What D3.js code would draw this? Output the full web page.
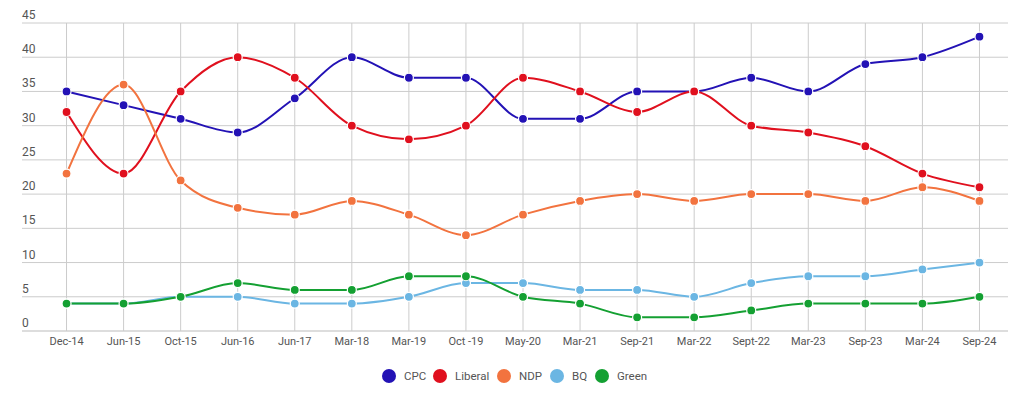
<!DOCTYPE html>
<html>
<head>
<meta charset="utf-8">
<script src="https://cdn.jsdelivr.net/npm/d3@7"></script>
<style>
  body { margin: 0; background: #fff; font-family: Roboto, "Noto Sans", sans-serif; }
  svg text { font-family: Roboto, sans-serif; }
</style>
</head>
<body>
<svg id="chart" width="1024" height="399"></svg>
<script>
// polls by date
const dates = ["Dec-14", "Jun-15", "Oct-15", "Jun-16", "Jun-17", "Mar-18", "Mar-19", "Oct -19", "May-20", "Mar-21", "Sep-21", "Mar-22", "Sept-22", "Mar-23", "Sep-23", "Mar-24", "Sep-24"];
const cpc     = [35, 33, 31, 29, 34, 40, 37, 37, 31, 31, 35, 35, 37, 35, 39, 40, 43];
const liberal = [32, 23, 35, 40, 37, 30, 28, 30, 37, 35, 32, 35, 30, 29, 27, 23, 21];
const ndp     = [23, 36, 22, 18, 17, 19, 17, 14, 17, 19, 20, 19, 20, 20, 19, 21, 19];
const bq      = [4, 4, 5, 5, 4, 4, 5, 7, 7, 6, 6, 5, 7, 8, 8, 9, 10];
const green   = [4, 4, 5, 7, 6, 6, 8, 8, 5, 4, 2, 2, 3, 4, 4, 4, 5];
const yTicks  = [0, 5, 10, 15, 20, 25, 30, 35, 40, 45];

const series = [
  {name: "CPC", color: "#2312b5", values: cpc},
  {name: "Liberal", color: "#e0101e", values: liberal},
  {name: "NDP", color: "#f2733f", values: ndp},
  {name: "BQ", color: "#6bb6e3", values: bq},
  {name: "Green", color: "#14a032", values: green}
];

const svg = d3.select("#chart");
const gridLeft = 22, plotLeft = 38, plotRight = 1008, plotTop = 23, plotBottom = 331;

const x = d3.scalePoint().domain(dates).range([plotLeft, plotRight]).padding(0.5);
const y = d3.scaleLinear().domain([0, 45]).range([plotBottom, plotTop]);

// gridlines
svg.append("g").selectAll("line").data(yTicks).join("line")
    .attr("x1", gridLeft).attr("x2", plotRight)
    .attr("y1", d => y(d)).attr("y2", d => y(d))
    .attr("stroke", d => d === 0 ? "#bbb" : "#ccc").attr("stroke-width", 1);

svg.append("g").selectAll("line").data(dates).join("line")
    .attr("x1", d => x(d)).attr("x2", d => x(d))
    .attr("y1", plotTop).attr("y2", plotBottom)
    .attr("stroke", "#ccc").attr("stroke-width", 1);

// y labels sit above their gridline
svg.append("g").selectAll("text").data(yTicks).join("text")
    .attr("x", gridLeft).attr("y", d => y(d) - 4)
    .attr("font-size", 12).attr("fill", "#555")
    .text(d => d);

// x labels
svg.append("g").selectAll("text").data(dates).join("text")
    .attr("x", d => x(d)).attr("y", 345)
    .attr("text-anchor", "middle")
    .attr("font-size", 11).attr("fill", "#555")
    .text(d => d);

const line = d3.line()
    .x((d, i) => x(dates[i]))
    .y(d => y(d))
    .curve(d3.curveMonotoneX);

series.forEach(s => {
  const g = svg.append("g");
  g.append("path")
      .attr("d", line(s.values))
      .attr("fill", "none")
      .attr("stroke", s.color)
      .attr("stroke-width", 2);
  g.selectAll("circle").data(s.values).join("circle")
      .attr("cx", (d, i) => x(dates[i]))
      .attr("cy", d => y(d))
      .attr("r", 4.5)
      .attr("fill", s.color)
      .attr("stroke", "#fff")
      .attr("stroke-width", 1.2);
});

// legend
const legendX = [389, 440, 504, 557, 602];
const legend = svg.append("g").selectAll("g").data(series).join("g")
    .attr("transform", (d, i) => `translate(${legendX[i]},376)`);
legend.append("circle").attr("r", 7).attr("fill", d => d.color);
legend.append("text")
    .attr("x", 15).attr("y", 4)
    .attr("font-size", 11.5).attr("fill", "#555")
    .text(d => d.name);
</script>
</body>
</html>
